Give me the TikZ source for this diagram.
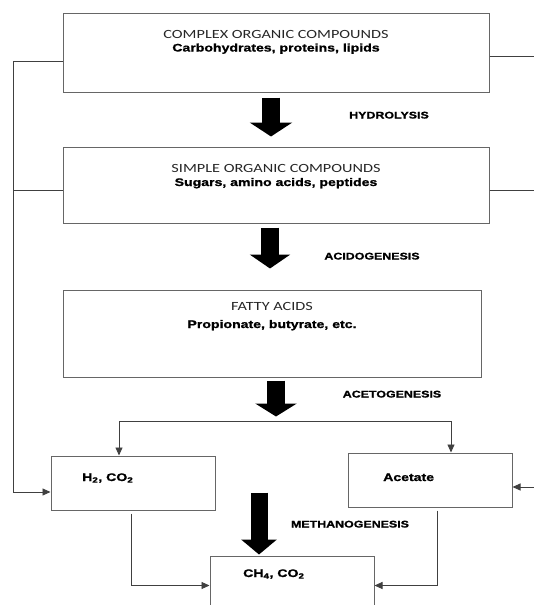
\documentclass[tikz,border=0pt]{standalone}
\usepackage{fontspec}
\usetikzlibrary{arrows.meta, positioning, calc}
\newfontfamily\capsfont[FakeStretch=1.3]{Carlito}
\newfontfamily\arialfont[FakeStretch=1.28, FakeBold=1.2]{Liberation Sans}

\tikzstyle{block} = [rectangle, draw=black!60, line width=1pt, inner sep=0pt]
\tikzstyle{titletext} = [font=\capsfont\fontsize{12.5}{14}\selectfont, text=black!85, anchor=base, inner sep=0pt]
\tikzstyle{subtext} = [font=\arialfont\bfseries\fontsize{11}{13}\selectfont, anchor=base, inner sep=0pt]
\tikzstyle{stagetext} = [font=\arialfont\bfseries\fontsize{9.7}{11}\selectfont, anchor=base, inner sep=0pt]
\tikzstyle{wire} = [draw, black!75, line width=0.9pt]
\tikzstyle{line} = [wire, -{Triangle[length=8pt,width=7pt]}]
\tikzstyle{fat} = [draw, black, line width=18pt, -{Triangle[length=14pt,width=42pt]}]

\begin{document}
\begin{tikzpicture}[x=1pt, y=-1pt]
    \useasboundingbox (0,0) rectangle (534,605);
    % boxes
    \node [block, minimum width=426pt, minimum height=79pt] (complex) at (276,52.5) {};
    \node [block, minimum width=426pt, minimum height=76pt] (simple) at (276,185) {};
    \node [block, minimum width=418pt, minimum height=87pt] (fatty) at (272,333.5) {};
    \node [block, minimum width=164pt, minimum height=54pt] (hydrogen) at (133,483) {};
    \node [block, minimum width=164pt, minimum height=54pt] (acetate) at (430,480) {};
    \node [block, minimum width=164pt, minimum height=80pt] (methane) at (292,596) {};

    \node [titletext] (complexT) at (276,38.5) {COMPLEX ORGANIC COMPOUNDS};
    \node [subtext] (complexS) at (276,51.5) {Carbohydrates, proteins, lipids};
    \node [titletext] (simpleT) at (276,172) {SIMPLE ORGANIC COMPOUNDS};
    \node [subtext] (simpleS) at (276,186) {Sugars, amino acids, peptides};
    \node [titletext] (fattyT) at (272,310) {FATTY ACIDS};
    \node [subtext] (fattyS) at (272,328) {Propionate, butyrate, etc.};
    \node [subtext, anchor=base west] (hydrogenT) at (82,481) {H\textsubscript{2}, CO\textsubscript{2}};
    \node [subtext, anchor=base west] (acetateT) at (383,481) {Acetate};
    \node [subtext, anchor=base west] (methaneT) at (243,577) {CH\textsubscript{4}, CO\textsubscript{2}};

    \node [stagetext] (hydro) at (389,118.5) {HYDROLYSIS};
    \node [stagetext] (acido) at (372,259.5) {ACIDOGENESIS};
    \node [stagetext] (aceto) at (392,397.5) {ACETOGENESIS};
    \node [stagetext] (methano) at (350,527.5) {METHANOGENESIS};

    % main steps
    \draw [fat] ([xshift=-5pt,yshift=-5pt]complex.south) -- ([xshift=-5pt,yshift=10pt]simple.north);
    \draw [fat, -{Triangle[length=14pt,width=40pt]}] ([xshift=-6pt,yshift=-4pt]simple.south) -- +(0,41);
    \draw [fat, -{Triangle[length=13pt,width=41pt]}] ([xshift=4pt,yshift=-3pt]fatty.south) -- +(0,36);
    \draw [fat, line width=17pt, -{Triangle[length=15pt,width=35pt]}] ([xshift=-33pt,yshift=63pt]methane.north) -- ([xshift=-33pt,yshift=1pt]methane.north);

    % split after acetogenesis
    \coordinate (splitL) at (119,421);
    \coordinate (splitR) at (451,421);
    \draw [wire] (splitL) -- (splitR);
    \path [line] (splitL) -- (splitL |- hydrogen.north);
    \path [line] (splitR) -- (splitR |- acetate.north);

    % into methane
    \path [line] ([xshift=-2pt,yshift=-3pt]hydrogen.south) |- ([yshift=-30pt]methane.north west);
    \path [line] ([xshift=7pt,yshift=-3pt]acetate.south) |- ([yshift=-30pt]methane.north east);

    % side paths
    \coordinate (lbus) at (13,492);
    \coordinate (rbus) at (540,487);
    \path [line] ([yshift=-8.5pt]complex.west) -| (lbus) -- ([yshift=-9pt]hydrogen.west);
    \draw [wire] ([yshift=-5pt]simple.west) -- ++(-50,0);
    \path [line] ([yshift=-3.5pt]complex.east) -| (rbus) -- ([yshift=-7pt]acetate.east);
    \draw [wire] ([yshift=-5pt]simple.east) -- ++(51,0);
\end{tikzpicture}
\end{document}
